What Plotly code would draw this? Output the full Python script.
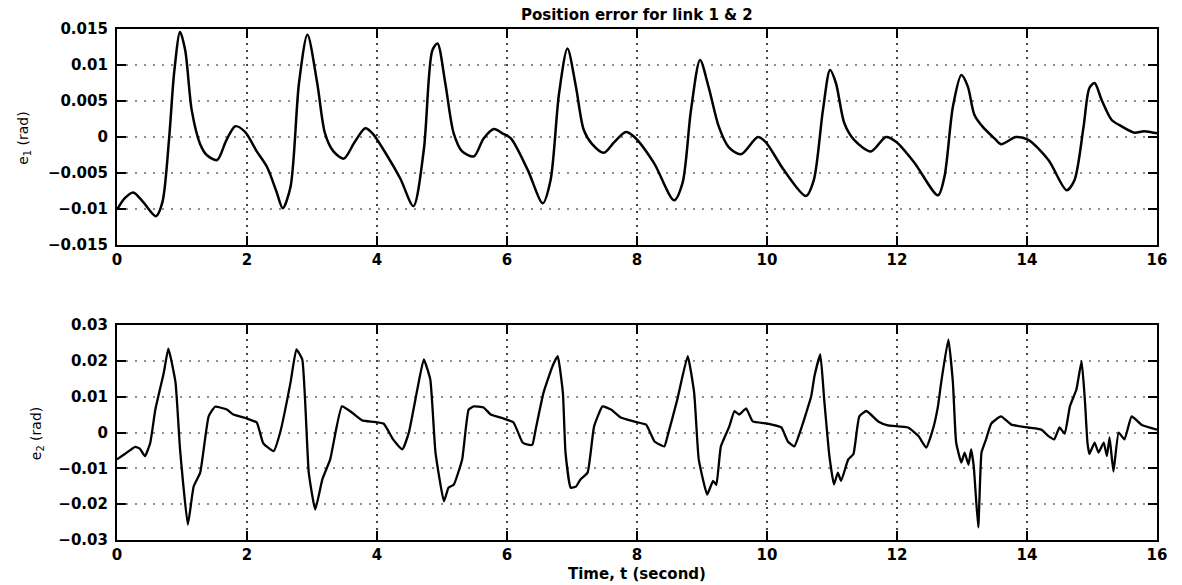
import plotly.graph_objects as go

# ---- data ----
t1 = [0.00, 0.12, 0.25, 0.40, 0.60, 0.70, 0.80, 0.88, 0.97, 1.05, 1.15, 1.28, 1.38, 1.54, 1.68, 1.82, 1.97,
      2.15, 2.31, 2.45, 2.55, 2.67, 2.80, 2.93, 3.08, 3.20, 3.33, 3.49, 3.65, 3.82, 3.93,
      4.15, 4.36, 4.56, 4.72, 4.85, 4.93, 5.05, 5.18, 5.31, 5.49, 5.64, 5.80, 5.93,
      6.06, 6.32, 6.55, 6.67, 6.80, 6.93, 7.06, 7.18, 7.31, 7.49, 7.65, 7.83, 7.96,
      8.26, 8.57, 8.70, 8.83, 8.97, 9.10, 9.26, 9.41, 9.60, 9.86, 9.98,
      10.26, 10.60, 10.72, 10.86, 10.97, 11.06, 11.19, 11.34, 11.60, 11.83, 11.99,
      12.27, 12.63, 12.73, 12.86, 12.99, 13.09, 13.19, 13.32, 13.50, 13.60, 13.83, 14.02,
      14.33, 14.61, 14.73, 14.87, 14.96, 15.04, 15.15, 15.30, 15.45, 15.65, 15.80, 16.00]
e1 = [-0.0101, -0.0085, -0.0077, -0.0090, -0.0110, -0.0090, -0.0004, 0.0090, 0.0146, 0.0120, 0.0037, -0.0010,
      -0.0025, -0.0032, -0.0005, 0.0015, 0.0007,
      -0.0020, -0.0042, -0.0075, -0.0099, -0.0069, 0.0075, 0.0142, 0.0075, 0.0005, -0.0020, -0.0030, -0.0008,
      0.0012, 0.0005,
      -0.0025, -0.0058, -0.0096, -0.0018, 0.0120, 0.0130, 0.0075, 0.0005, -0.0020, -0.0027, -0.0002, 0.0011,
      0.0005,
      -0.0002, -0.0046, -0.0092, -0.0060, 0.0060, 0.0123, 0.0070, 0.0010, -0.0010, -0.0022, -0.0007, 0.0007,
      0.0000,
      -0.0036, -0.0088, -0.0064, 0.0037, 0.0107, 0.0070, 0.0014, -0.0014, -0.0024, 0.0000, -0.0007,
      -0.0046, -0.0082, -0.0060, 0.0037, 0.0093, 0.0075, 0.0019, -0.0004, -0.0020, 0.0000, -0.0007,
      -0.0036, -0.0081, -0.0055, 0.0042, 0.0086, 0.0070, 0.0031, 0.0014, -0.0002, -0.0010, 0.0000, -0.0004,
      -0.0032, -0.0074, -0.0060, 0.0014, 0.0068, 0.0075, 0.0051, 0.0024, 0.0015, 0.0006, 0.0008, 0.0005]

t2 = [0.00, 0.12, 0.28, 0.35, 0.43, 0.51, 0.59, 0.72, 0.79, 0.90, 0.97, 1.09, 1.18, 1.28, 1.41, 1.51, 1.69,
      1.79, 2.00, 2.15, 2.25, 2.41, 2.51, 2.67, 2.76, 2.85, 2.95, 3.05, 3.16, 3.28, 3.46, 3.62, 3.77,
      4.10, 4.25, 4.39, 4.49, 4.62, 4.72, 4.82, 4.90, 5.03, 5.10, 5.18, 5.31, 5.41, 5.49, 5.64, 5.75,
      5.95, 6.10, 6.24, 6.32, 6.39, 6.44, 6.56, 6.70, 6.78, 6.86, 6.90, 6.98, 7.06, 7.13, 7.24, 7.34,
      7.47, 7.60, 7.75, 7.95, 8.14, 8.27, 8.42, 8.47, 8.62, 8.78, 8.88, 8.95, 9.08, 9.17, 9.22, 9.29,
      9.42, 9.50, 9.57, 9.68, 9.78, 10.01, 10.22, 10.32, 10.42, 10.52, 10.68, 10.73, 10.82, 10.88,
      10.96, 11.03, 11.09, 11.14, 11.25, 11.33, 11.42, 11.53, 11.71, 11.86, 12.17, 12.33, 12.45,
      12.56, 12.63, 12.68, 12.79, 12.86, 12.91, 12.99, 13.04, 13.10, 13.14, 13.18, 13.25, 13.30,
      13.37, 13.45, 13.60, 13.76, 14.02, 14.22, 14.33, 14.42, 14.50, 14.58, 14.66, 14.76, 14.84,
      14.89, 14.93, 14.96, 15.04, 15.10, 15.18, 15.23, 15.27, 15.33, 15.41, 15.50, 15.61, 15.76, 16.00]
e2 = [-0.0075, -0.0060, -0.0040, -0.0045, -0.0066, -0.0030, 0.0064, 0.0167, 0.0234, 0.0140, -0.0047, -0.0257,
      -0.0150, -0.0112, 0.0045, 0.0072, 0.0064,
      0.0050, 0.0039, 0.0028, -0.0030, -0.0052, 0.0000, 0.0140, 0.0232, 0.0204, -0.0112, -0.0215, -0.0130,
      -0.0075, 0.0073, 0.0055, 0.0034,
      0.0025, -0.0020, -0.0047, 0.0000, 0.0120, 0.0204, 0.0148, -0.0056, -0.0192, -0.0154, -0.0146, -0.0075,
      0.0064, 0.0073, 0.0070, 0.0050,
      0.0039, 0.0028, -0.0028, -0.0034, -0.0034, 0.0008, 0.0110, 0.0185, 0.0213, 0.0110, -0.0056, -0.0154,
      -0.0151, -0.0131, -0.0112, 0.0017,
      0.0073, 0.0064, 0.0042, 0.0031, 0.0022, -0.0025, -0.0039, -0.0010, 0.0092, 0.0213, 0.0110, -0.0075,
      -0.0173, -0.0135, -0.0146, -0.0039,
      0.0017, 0.0060, 0.0050, 0.0067, 0.0031, 0.0025, 0.0014, -0.0025, -0.0039, 0.0008, 0.0101, 0.0157,
      0.0218, 0.0092,
      -0.0066, -0.0145, -0.0112, -0.0135, -0.0075, -0.0060, 0.0045, 0.0060, 0.0031, 0.0020, 0.0014, -0.0010,
      -0.0042,
      0.0014, 0.0073, 0.0140, 0.0260, 0.0140, -0.0028, -0.0084, -0.0056, -0.0090, -0.0047, -0.0093, -0.0265,
      -0.0056,
      -0.0019, 0.0025, 0.0045, 0.0022, 0.0014, 0.0008, -0.0010, -0.0019, 0.0014, -0.0003, 0.0073, 0.0120,
      0.0199,
      0.0092, -0.0028, -0.0060, -0.0028, -0.0056, -0.0028, -0.0066, -0.0014, -0.0109, 0.0000, -0.0019,
      0.0045, 0.0022, 0.0008]

x_ticks = [0, 2, 4, 6, 8, 10, 12, 14, 16]
y1_ticks = [-0.015, -0.01, -0.005, 0, 0.005, 0.01, 0.015]
y1_text = ["\u22120.015", "\u22120.01", "\u22120.005", "0", "0.005", "0.01", "0.015"]
y2_ticks = [-0.03, -0.02, -0.01, 0, 0.01, 0.02, 0.03]
y2_text = ["\u22120.03", "\u22120.02", "\u22120.01", "0", "0.01", "0.02", "0.03"]

title_text = "Position error for link 1 &amp; 2"
xlabel = "Time, t (second)"
y1_label = "e<sub>1</sub> (rad)"
y2_label = "e<sub>2</sub> (rad)"

FONT = "DejaVu Sans"
tick_font = dict(family=FONT, size=15, color="black", weight="bold")

fig = go.Figure()
fig.add_trace(go.Scatter(x=t1, y=e1, mode="lines", line=dict(color="black", width=2.5, shape="spline",
                                                              smoothing=0.8),
                         xaxis="x", yaxis="y", showlegend=False))
fig.add_trace(go.Scatter(x=t2, y=e2, mode="lines", line=dict(color="black", width=2.3, shape="spline",
                                                              smoothing=0.4),
                         xaxis="x2", yaxis="y2", showlegend=False))

common_x = dict(range=[0, 16], tickvals=x_ticks, ticks="inside", ticklen=9, tickwidth=1.8, tickcolor="black",
                showline=True, linecolor="black", linewidth=2.2, mirror="ticks",
                showgrid=True, gridcolor="#444444", griddash="2px,5px", gridwidth=1.5,
                zeroline=False, tickfont=tick_font, fixedrange=True)
common_y = dict(ticks="inside", ticklen=9, tickwidth=1.8, tickcolor="black",
                showline=True, linecolor="black", linewidth=2.2, mirror="ticks",
                showgrid=True, gridcolor="#8f8f8f", griddash="2px,7px", gridwidth=1.5,
                zeroline=False, tickfont=tick_font, fixedrange=True, ticklabelstandoff=4)

fig.update_layout(
    width=1182, height=585,
    margin=dict(l=117, r=25, t=29, b=45),
    paper_bgcolor="white", plot_bgcolor="white",
    xaxis=dict(common_x, domain=[0, 1], anchor="y"),
    yaxis=dict(common_y, domain=[0.5773, 1.0], range=[-0.015, 0.015], tickvals=y1_ticks, ticktext=y1_text,
               anchor="x"),
    xaxis2=dict(common_x, domain=[0, 1], anchor="y2"),
    yaxis2=dict(common_y, domain=[0.0, 0.4207], range=[-0.03, 0.03], tickvals=y2_ticks, ticktext=y2_text,
                anchor="x2"),
    annotations=[
        dict(text=title_text, x=0.5, y=1.0, xref="paper", yref="paper", yshift=14, showarrow=False,
             font=dict(family=FONT, size=15, color="black", weight="bold"), yanchor="middle"),
        dict(text=xlabel, x=0.5, y=0.0, xref="paper", yref="paper", yshift=-34, showarrow=False,
             font=dict(family=FONT, size=15, color="black", weight="bold"), yanchor="middle"),
        dict(text=y1_label, x=0.0, y=0.785, xref="paper", yref="paper", xshift=-93,
             textangle=-90, showarrow=False, font=dict(family=FONT, size=14, color="black"),
             xanchor="center", yanchor="middle"),
        dict(text=y2_label, x=0.0, y=0.207, xref="paper", yref="paper", xshift=-80,
             textangle=-90, showarrow=False, font=dict(family=FONT, size=14, color="black"),
             xanchor="center", yanchor="middle"),
    ],
)

fig.write_html("out.html")
